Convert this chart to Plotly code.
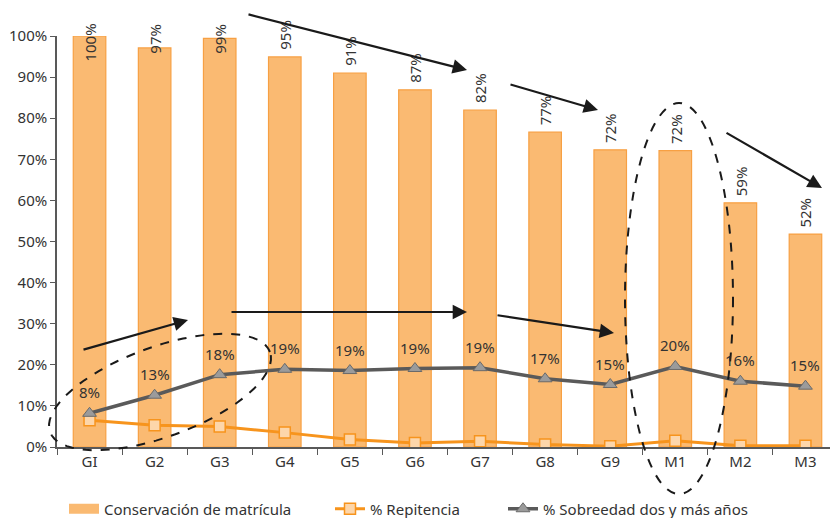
import math
import plotly.graph_objects as go

categories = ["GI", "G2", "G3", "G4", "G5", "G6", "G7", "G8", "G9", "M1", "M2", "M3"]
conservacion = [100, 97.1, 99.4, 94.9, 91.0, 86.9, 82.0, 76.6, 72.3, 72.1, 59.4, 51.8]
repitencia = [6.5, 5.3, 5.0, 3.5, 1.8, 1.0, 1.4, 0.6, 0.2, 1.5, 0.3, 0.3]
sobreedad = [8.2, 12.6, 17.6, 18.9, 18.6, 19.1, 19.3, 16.6, 15.2, 19.6, 16.0, 14.8]
y_ticks = list(range(0, 101, 10))
y_ticklabels = [f"{v}%" for v in y_ticks]

FONT = "Noto Sans, Open Sans, sans-serif"
TXT = "#333333"
BAR_FILL = "#FABA72"

# the page puts the figure 8 px in from the top-left corner
OFF = 8
W, H = 838 - OFF, 518 - OFF
ML, MT = 57 - OFF, 36 - OFF
MR, MB = 0, H - (447 - OFF)
PW, PH = W - ML - MR, H - MT - MB


def px(xp, yp):
    """window pixel -> paper coordinates"""
    return (xp - OFF - ML) / PW, (H - MB - (yp - OFF)) / PH


fig = go.Figure()
fig.add_trace(go.Bar(
    x=categories, y=conservacion, name="Conservación de matrícula",
    marker=dict(color=BAR_FILL, line=dict(color="#F7A043", width=1.2)),
    width=0.5, showlegend=False,
))
# legend entry for the bars (wide swatch like the original)
fig.add_trace(go.Scatter(
    x=[None], y=[None], name="Conservación de matrícula", mode="lines",
    line=dict(color=BAR_FILL, width=11), legend="legend",
))
fig.add_trace(go.Scatter(
    x=categories, y=repitencia, name="% Repitencia", mode="lines+markers",
    line=dict(color="#F7941D", width=3),
    marker=dict(symbol="square", size=11, color="#FDD6AA",
                line=dict(color="#F7941D", width=1.5)),
    legend="legend2",
))
fig.add_trace(go.Scatter(
    x=categories, y=sobreedad, name="% Sobreedad dos y más años", mode="lines+markers",
    line=dict(color="#5A5A5A", width=3.5),
    marker=dict(symbol="triangle-up", size=12, color="#9B9B9B",
                line=dict(color="#6A6A6A", width=1)),
    legend="legend3",
))

annotations = []
for c, v in zip(categories, conservacion):
    if v >= 96:
        # label pushed down so it stays inside the chart (top of text ~22 px)
        pos = dict(y=100, yanchor="top", yshift=14)
    else:
        pos = dict(y=v, yanchor="bottom", yshift=5)
    annotations.append(dict(
        x=c, xref="x", yref="y", text=f"{round(v)}%",
        textangle=-90, showarrow=False,
        font=dict(family=FONT, size=15, color=TXT), **pos,
    ))
for c, v in zip(categories, sobreedad):
    annotations.append(dict(
        x=c, y=v, xref="x", yref="y", text=f"{round(v)}%",
        showarrow=False, yshift=21,
        font=dict(family=FONT, size=15, color=TXT),
    ))

arrows = [
    ((247, 14), (467, 70)),
    ((509, 84), (598, 110)),
    ((725, 132), (822, 188)),
    ((82, 350), (188, 320)),
    ((230, 312), (467, 312)),
    ((496, 315), (614, 333)),
]
for (tx, ty), (hx, hy) in arrows:
    x, y = px(hx, hy)
    annotations.append(dict(
        x=x, y=y, xref="paper", yref="paper", ax=tx - hx, ay=ty - hy,
        axref="pixel", ayref="pixel", text="", showarrow=True,
        arrowhead=2, arrowsize=1.3, arrowwidth=2.2, arrowcolor="#1A1A1A",
        standoff=0, startstandoff=0,
    ))

# tilted dashed ellipse around G1-G3
cx, cy, a, b, th = 160, 392, 117, 45, math.radians(20)
pts = []
for i in range(73):
    t = 2 * math.pi * i / 72
    xp = cx + a * math.cos(t) * math.cos(th) - b * math.sin(t) * math.sin(th)
    yp = cy - (a * math.cos(t) * math.sin(th) + b * math.sin(t) * math.cos(th))
    pts.append(px(xp, yp))
path = "M " + " L ".join(f"{x:.5f},{y:.5f}" for x, y in pts) + " Z"

x0, y0 = px(625, 494)
x1, y1 = px(733, 103)
shapes = [
    dict(type="path", path=path, xref="paper", yref="paper",
         line=dict(color="#1A1A1A", width=2, dash="dash")),
    dict(type="circle", xref="paper", yref="paper", x0=x0, y0=y0, x1=x1, y1=y1,
         line=dict(color="#1A1A1A", width=2, dash="dash")),
]

legend_common = dict(orientation="h", xref="container", yref="container",
                     xanchor="left", yanchor="middle", y=1 - (509 - OFF) / H,
                     font=dict(family=FONT, size=15, color=TXT), itemwidth=30,
                     bgcolor="rgba(0,0,0,0)")

fig.update_layout(
    width=W, height=H,
    margin=dict(l=ML, r=MR, t=MT, b=MB, autoexpand=False),
    paper_bgcolor="white", plot_bgcolor="white",
    font=dict(family=FONT, size=15, color=TXT),
    showlegend=True,
    legend=dict(legend_common, x=(64 - OFF) / W),
    legend2=dict(legend_common, x=(330 - OFF) / W),
    legend3=dict(legend_common, x=(503 - OFF) / W),
    annotations=annotations,
    shapes=shapes,
)
fig.update_xaxes(
    type="category", range=[-0.5, 11.5], showline=True, linecolor="#595959", linewidth=1.5,
    ticks="outside", tickson="boundaries", ticklen=6, tickcolor="#595959",
    showgrid=False, automargin=False, tickfont=dict(family=FONT, size=15, color=TXT),
)
fig.update_yaxes(
    range=[0, 100], tickmode="array", tickvals=y_ticks, ticktext=y_ticklabels,
    showline=True, linecolor="#595959", linewidth=1.5,
    ticks="outside", ticklen=5, tickcolor="#595959", showgrid=False, zeroline=False,
    automargin=False, tickfont=dict(family=FONT, size=15, color=TXT),
)

fig.write_html("out.html")
